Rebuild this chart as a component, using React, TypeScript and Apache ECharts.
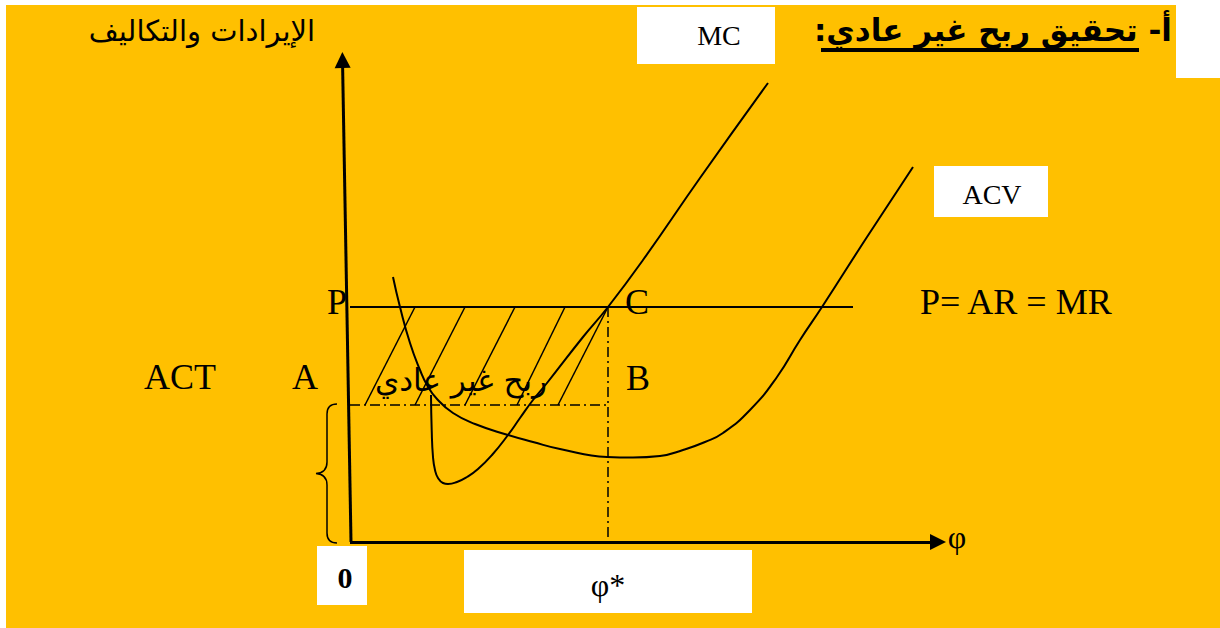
import React, { useEffect, useRef } from "react";
import * as echarts from "echarts";

// Data units: quantity φ on x, revenue/cost on y
const PRICE = 23.5; // P = AR = MR
const ACT_LEVEL = 13.7; // average total cost at φ*
const Q_STAR = 25.8; // φ*
const PRICE_LINE_END = 50.3;

const mcX = [8.1, 8.17, 8.3, 8.5, 8.8, 9.3, 9.8, 10.7, 11.7, 12.8, 14.2, 15.8, 17.0, 18.3, 19.7, 23.3, 25.8, 29.3, 35.0, 41.8];
const mcY = [14.7, 11.2, 8.5, 7.2, 6.4, 5.9, 5.8, 6.0, 6.5, 7.3, 8.7, 10.7, 12.4, 14.2, 15.9, 20.5, 23.5, 28.2, 36.4, 45.9];

const acvX = [4.3, 5.0, 6.0, 7.0, 7.7, 8.7, 10.3, 12.5, 15.8, 18.3, 21.0, 25.7, 28.3, 31.0, 33.3, 35.5, 37.3, 40.0, 42.7, 45.0, 47.2, 51.7, 56.3];
const acvY = [26.5, 23.5, 19.9, 17.2, 15.7, 14.3, 12.9, 11.8, 10.7, 10.0, 9.3, 8.5, 8.45, 8.6, 9.2, 10.0, 10.9, 13.2, 16.5, 20.2, 23.5, 30.5, 37.5];

const hatchBottomX = [1.5, 6.5, 11.5, 16.7, 20.8];
const hatchTopX = [6.5, 11.5, 16.5, 21.5, Q_STAR];

const X_AXIS_END = 58.8;
const Y_AXIS_BOTTOM = [0.1, 0];
const Y_AXIS_TOP = [-0.75, 48.2];

const BRACE_D =
  "M21,0 C14,0 11,3 11,10 L11,58 C11,65 7,69 0,69.5 C7,70 11,74 11,81 L11,129 C11,136 14,139 21,139";

const SERIF = '"Liberation Serif", "Times New Roman", serif';
const ARABIC = '"DejaVu Sans", sans-serif';

function txt(text: string, x: number, y: number, font: string, align = "center", z = 100) {
  return {
    type: "text",
    x,
    y,
    z,
    style: { text, font, fill: "#000", textAlign: align, textVerticalAlign: "middle" },
  };
}

function box(x: number, y: number, w: number, h: number) {
  return { type: "rect", z: 50, shape: { x, y, width: w, height: h }, style: { fill: "#FFFFFF" } };
}

export default function App() {
  const ref = useRef<HTMLDivElement>(null);
  useEffect(() => {
    if (!ref.current) return;
    echarts.graphic.registerShape("brace", echarts.graphic.extendPath(BRACE_D, {}));
    const chart = echarts.init(ref.current, null, { renderer: "svg" });

    const dashDot = [10, 4, 2, 4];
    const hatchData = hatchBottomX.map((bx, i) => ({
      coords: [
        [bx, ACT_LEVEL],
        [hatchTopX[i], PRICE],
      ],
    }));

    const option: any = {
      animation: false,
      backgroundColor: "#FFFFFF",
      grid: { left: 0, right: 0, top: 0, bottom: 0 },
      xAxis: { type: "value", min: -35, max: 87, show: false },
      yAxis: { type: "value", min: -8.6, max: 54.2, show: false },
      graphic: [
        { type: "rect", z: 0, shape: { x: 6, y: 5, width: 1214, height: 623 }, style: { fill: "#FFC000" } },
        { type: "rect", z: 1, shape: { x: 1176, y: 0, width: 44, height: 78 }, style: { fill: "#FFFFFF" } },
        box(637, 7, 138, 57),
        box(934, 166, 114, 51),
        box(317, 546, 50, 59),
        box(464, 550, 288, 63),
        txt("الإيرادات والتكاليف", 202, 31, "29px " + ARABIC),
        txt("أ- تحقيق ربح غير عادي:\u200F", 1172, 30, "bold 31px " + ARABIC, "right"),
        { type: "rect", z: 100, shape: { x: 821, y: 48, width: 318, height: 4 }, style: { fill: "#000" } },
        txt("MC", 719, 35, "28px " + SERIF),
        txt("ACV", 992, 194, "28px " + SERIF),
        txt("P", 337, 302, "36px " + SERIF),
        txt("C", 637, 302, "36px " + SERIF),
        txt("P= AR = MR", 920, 302, "36px " + SERIF, "left"),
        txt("ACT", 180, 377, "36px " + SERIF),
        txt("A", 305, 377, "36px " + SERIF),
        txt("B", 638, 378, "36px " + SERIF),
        txt("ربح غير عادي", 461, 380, "31px " + ARABIC),
        txt("φ", 957, 537, "32px " + SERIF),
        txt("0", 345, 577, "bold 30px " + SERIF),
        txt("φ*", 608, 585, "32px " + SERIF),
        {
          type: "brace",
          z: 100,
          x: 316,
          y: 404,
          style: { fill: "none", stroke: "#000", lineWidth: 1.5 },
        },
      ],
      series: [
        {
          type: "line",
          name: "MC",
          data: mcX.map((x, i) => [x, mcY[i]]),
          smooth: 0.5,
          symbol: "none",
          silent: true,
          lineStyle: { color: "#000", width: 2 },
          z: 5,
        },
        {
          type: "line",
          name: "ACV",
          data: acvX.map((x, i) => [x, acvY[i]]),
          smooth: 0.5,
          symbol: "none",
          silent: true,
          lineStyle: { color: "#000", width: 2 },
          z: 5,
        },
        {
          type: "lines",
          name: "price",
          coordinateSystem: "cartesian2d",
          silent: true,
          symbol: "none",
          lineStyle: { color: "#000", width: 2, opacity: 1 },
          data: [{ coords: [[0, PRICE], [PRICE_LINE_END, PRICE]] }],
          z: 5,
        },
        {
          type: "lines",
          name: "hatch",
          coordinateSystem: "cartesian2d",
          silent: true,
          symbol: "none",
          lineStyle: { color: "#000", width: 1.5, opacity: 1 },
          data: hatchData,
          z: 5,
        },
        {
          type: "lines",
          name: "guides",
          coordinateSystem: "cartesian2d",
          silent: true,
          symbol: "none",
          lineStyle: { color: "#000", width: 1.5, opacity: 1, type: dashDot },
          data: [
            { coords: [[0, ACT_LEVEL], [Q_STAR, ACT_LEVEL]] },
            { coords: [[Q_STAR, PRICE], [Q_STAR, 0]] },
          ],
          z: 5,
        },
        {
          type: "lines",
          name: "axes",
          coordinateSystem: "cartesian2d",
          silent: true,
          symbol: ["none", "triangle"],
          symbolSize: 16,
          lineStyle: { color: "#000", width: 3, opacity: 1 },
          data: [
            { coords: [[0, 0], [X_AXIS_END, 0]] },
            { coords: [Y_AXIS_BOTTOM, Y_AXIS_TOP] },
          ],
          z: 6,
        },
      ],
    };
    chart.setOption(option);
    return () => chart.dispose();
  }, []);
  return (
    <div
      ref={ref}
      style={{ position: "fixed", left: 0, top: 0, width: 1220, height: 628 }}
    />
  );
}
